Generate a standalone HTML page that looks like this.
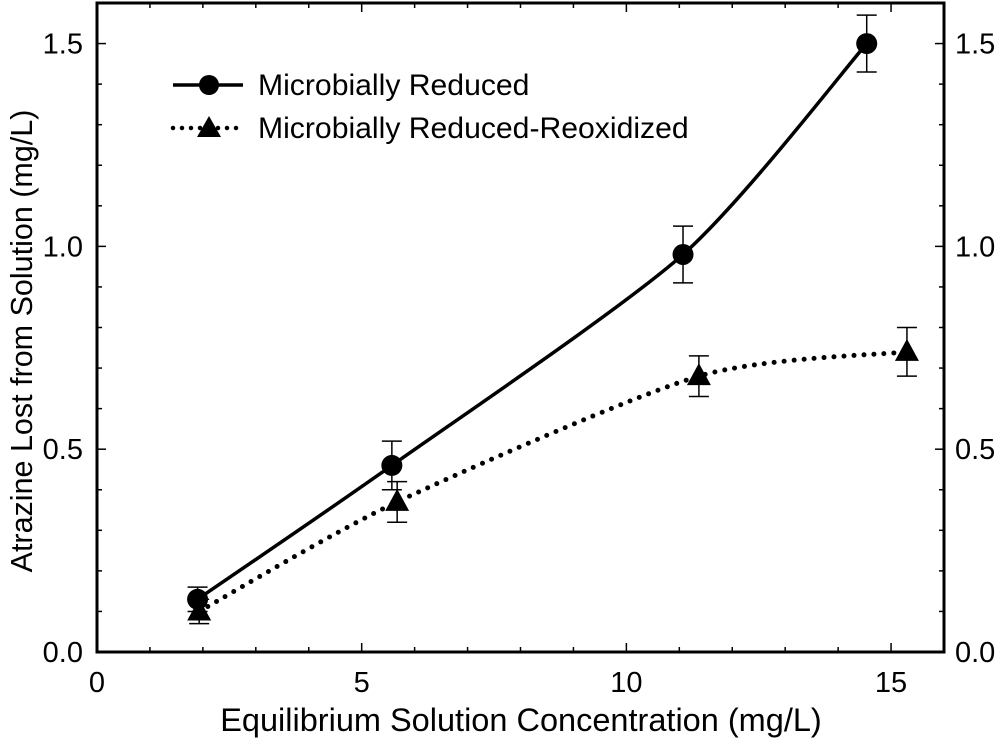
<!DOCTYPE html>
<html><head><meta charset="utf-8"><style>
html,body{margin:0;padding:0;background:#fff;}
svg text{font-family:"Liberation Sans",Arial,sans-serif;fill:#000;}
</style></head><body>
<svg id="chart" width="1000" height="748" viewBox="0 0 1000 748" xmlns="http://www.w3.org/2000/svg">
<g id="axes"></g>
<g id="series"></g>
<g id="legend">
 <line x1="173" y1="85" x2="243" y2="85" stroke="#000" stroke-width="3.5"/>
 <circle cx="209" cy="85" r="10"/>
 <text x="258" y="95" font-size="29" transform="translate(258,95) scale(1.04,1.02) translate(-258,-95)">Microbially Reduced</text>
 <line x1="173" y1="128" x2="243" y2="128" stroke="#000" stroke-width="4.5" stroke-dasharray="0 9" stroke-linecap="round"/>
 <path d="M209 116 L221 137 L197 137 Z"/>
 <text x="258" y="138" font-size="29" transform="translate(258,138) scale(1.04,1.02) translate(-258,-138)">Microbially Reduced-Reoxidized</text>
</g>
<text x="521" y="731" font-size="32.5" text-anchor="middle">Equilibrium Solution Concentration (mg/L)</text>
<text transform="translate(32,341) rotate(-90)" font-size="30.5" text-anchor="middle">Atrazine Lost from Solution (mg/L)</text>
</svg>
<script>
const xTicks=[0,5,10,15];
const yTicks=[0.0,0.5,1.0,1.5];
const yTickLabels=["0.0","0.5","1.0","1.5"];
const reducedX=[1.9,5.57,11.07,14.54];
const reducedY=[0.13,0.46,0.98,1.50];
const reducedErr=[0.03,0.06,0.07,0.07];
const reoxX=[1.93,5.67,11.37,15.3];
const reoxY=[0.10,0.37,0.68,0.74];
const reoxErr=[0.03,0.05,0.05,0.06];

const L=97,R=944,T=3,B=652,XMAX=16,YMAX=1.6;
function sx(v){return L+v/XMAX*(R-L);}
function sy(v){return B-v/YMAX*(B-T);}
const NS="http://www.w3.org/2000/svg";
function mk(tag,attrs,parent){const e=document.createElementNS(NS,tag);for(const k in attrs)e.setAttribute(k,attrs[k]);parent.appendChild(e);return e;}
const axes=document.getElementById('axes');
const frame=mk('rect',{x:L,y:T,width:R-L,height:B-T,fill:'none',stroke:'#000','stroke-width':3},axes);


for(let i=0;i<=XMAX;i++){
  const x=sx(i),len=(i%5===0)?9:5;
  mk('line',{x1:x,y1:B,x2:x,y2:B-len,stroke:'#000','stroke-width':1.5},axes);
  mk('line',{x1:x,y1:T,x2:x,y2:T+len,stroke:'#000','stroke-width':1.5},axes);
}
for(let i=0;i<=16;i++){
  const y=sy(i/10),len=(i%5===0)?9:5;
  mk('line',{x1:L,y1:y,x2:L+len,y2:y,stroke:'#000','stroke-width':1.5},axes);
  mk('line',{x1:R,y1:y,x2:R-len,y2:y,stroke:'#000','stroke-width':1.5},axes);
}
xTicks.forEach(v=>{
  const t=mk('text',{x:sx(v),y:B+40,'font-size':29,'text-anchor':'middle'},axes);
  t.textContent=v;
  
  
});
yTicks.forEach((v,i)=>{
  const t=mk('text',{x:L-14,y:sy(v)+10,'font-size':29,'text-anchor':'end'},axes);
  t.textContent=yTickLabels[i];
  
  
  const t2=mk('text',{x:R+11,y:sy(v)+10,'font-size':29,'text-anchor':'start'},axes);
  t2.textContent=yTickLabels[i];
  
  
});
function spline(xs,ys){
  const p=xs.map((x,i)=>[sx(x),sy(ys[i])]);
  let d='M'+p[0][0]+' '+p[0][1];
  for(let i=0;i<p.length-1;i++){
    const p0=p[Math.max(0,i-1)],p1=p[i],p2=p[i+1],p3=p[Math.min(p.length-1,i+2)];
    const c1=[p1[0]+(p2[0]-p0[0])/8,p1[1]+(p2[1]-p0[1])/8];
    const c2=[p2[0]-(p3[0]-p1[0])/8,p2[1]-(p3[1]-p1[1])/8];
    d+=` C${c1[0]} ${c1[1]} ${c2[0]} ${c2[1]} ${p2[0]} ${p2[1]}`;
  }
  return d;
}
const series=document.getElementById('series');
const l1=mk('path',{d:spline(reducedX,reducedY),fill:'none',stroke:'#000','stroke-width':3.5},series);


const l2=mk('path',{d:spline(reoxX,reoxY),fill:'none',stroke:'#000','stroke-width':5,'stroke-dasharray':'0 10','stroke-linecap':'round'},series);


function errbar(x,y,e){
  const cx=sx(x),t=sy(y+e),b=sy(y-e);
  mk('line',{x1:cx,y1:t,x2:cx,y2:b,stroke:'#000','stroke-width':1.5},series);
  mk('line',{x1:cx-10,y1:t,x2:cx+10,y2:t,stroke:'#000','stroke-width':1.5},series);
  mk('line',{x1:cx-10,y1:b,x2:cx+10,y2:b,stroke:'#000','stroke-width':1.5},series);
}
reoxX.forEach((x,i)=>{
  errbar(x,reoxY[i],reoxErr[i]);
  const cx=sx(x),cy=sy(reoxY[i]);
  const m=mk('path',{d:`M${cx} ${cy-13} L${cx+12} ${cy+9} L${cx-12} ${cy+9} Z`},series);
  
  
});
reducedX.forEach((x,i)=>{
  errbar(x,reducedY[i],reducedErr[i]);
  const m=mk('circle',{cx:sx(x),cy:sy(reducedY[i]),r:10.5},series);
  
  
});
</script>
</body></html>
